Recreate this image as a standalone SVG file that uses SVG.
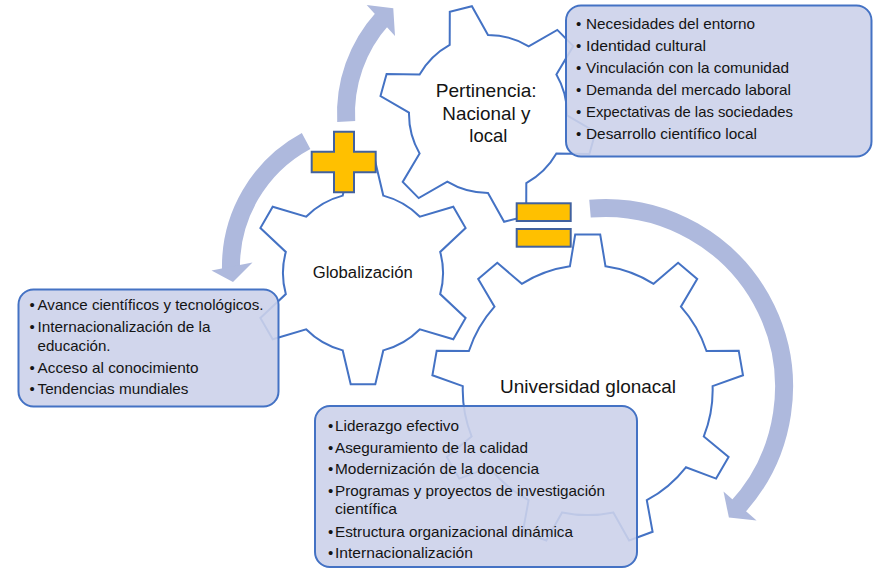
<svg xmlns="http://www.w3.org/2000/svg" width="880" height="577" viewBox="0 0 880 577">
<style>
.gear{fill:#fff;stroke:#4472C4;stroke-width:2;stroke-linejoin:miter}
.box{fill:#CCD2EA;fill-opacity:0.9;stroke:#4472C4;stroke-width:2}
.t{font-family:"Liberation Sans",Arial,sans-serif;font-size:15px;fill:#141414}
.lbl{font-family:"Liberation Sans",Arial,sans-serif;fill:#141414;text-anchor:middle}
.band{fill:none;stroke:#AEB9DD;stroke-width:18}
.head{fill:#AEB9DD}
.op{fill:#FFC000;stroke:#41619F;stroke-width:2}
</style>
<rect x="0" y="0" width="880" height="577" fill="#fff"/>

<g id="node-universidad">
<path class="gear" d="M569.9,266.3 L575.2,234.5 L600.2,234.5 L605.5,266.3 A125 125 0 0 1 653.6,283.8 L678.1,262.8 L697.2,278.9 L680.9,306.7 A125 125 0 0 1 706.5,351 L738.7,350.7 L743,375.3 L712.6,386.1 A125 125 0 0 1 703.8,436.4 L728.6,456.9 L716.1,478.6 L685.9,467.3 A125 125 0 0 1 646.8,500.2 L652.6,531.8 L629.1,540.4 L613.3,512.4 A125 125 0 0 1 562.1,512.4 L546.3,540.4 L522.8,531.8 L528.6,500.2 A125 125 0 0 1 489.5,467.3 L459.3,478.6 L446.8,456.9 L471.6,436.4 A125 125 0 0 1 462.8,386.1 L432.4,375.3 L436.7,350.7 L468.9,351 A125 125 0 0 1 494.5,306.7 L478.2,278.9 L497.3,262.8 L521.8,283.8 A125 125 0 0 1 569.9,266.3 Z"/>
<text class="lbl" x="588" y="393.3" font-size="19" textLength="176" lengthAdjust="spacingAndGlyphs">Universidad glonacal</text>
<rect class="box" x="315" y="406" width="322" height="161" rx="15" ry="15"/>
<g class="t">
<text x="328" y="430.7">•</text><text x="335" y="430.7" textLength="124" lengthAdjust="spacingAndGlyphs">Liderazgo efectivo</text>
<text x="328" y="452.7">•</text><text x="335" y="452.7" textLength="193" lengthAdjust="spacingAndGlyphs">Aseguramiento de la calidad</text>
<text x="328" y="474.3">•</text><text x="335" y="474.3" textLength="204" lengthAdjust="spacingAndGlyphs">Modernización de la docencia</text>
<text x="328" y="496">•</text><text x="335" y="496" textLength="270" lengthAdjust="spacingAndGlyphs">Programas y proyectos de investigación</text>
<text x="335" y="513.5" textLength="62" lengthAdjust="spacingAndGlyphs">científica</text>
<text x="328" y="536.5">•</text><text x="335" y="536.5" textLength="238" lengthAdjust="spacingAndGlyphs">Estructura organizacional dinámica</text>
<text x="328" y="558.3">•</text><text x="335" y="558.3" textLength="138" lengthAdjust="spacingAndGlyphs">Internacionalización</text>
</g>
</g>

<g id="node-globalizacion">
<path class="gear" d="M342.7,195.6 L350.7,161.7 L375.3,161.7 L383.3,195.6 A80 80 0 0 1 419.9,216.7 L453.3,206.7 L465.6,228 L440.2,251.9 A80 80 0 0 1 440.2,294.1 L465.6,318 L453.3,339.3 L419.9,329.3 A80 80 0 0 1 383.3,350.4 L375.3,384.3 L350.7,384.3 L342.7,350.4 A80 80 0 0 1 306.1,329.3 L272.7,339.3 L260.4,318 L285.8,294.1 A80 80 0 0 1 285.8,251.9 L260.4,228 L272.7,206.7 L306.1,216.7 A80 80 0 0 1 342.7,195.6 Z"/>
<text class="lbl" x="362.7" y="278.3" font-size="16" textLength="100" lengthAdjust="spacingAndGlyphs">Globalización</text>
<rect class="box" x="18.5" y="289.5" width="260" height="117" rx="15" ry="15"/>
<g class="t">
<text x="29.5" y="309.5">•</text><text x="37.5" y="309.5" textLength="226" lengthAdjust="spacingAndGlyphs">Avance científicos y tecnológicos.</text>
<text x="29.5" y="331.5">•</text><text x="37.5" y="331.5" textLength="173" lengthAdjust="spacingAndGlyphs">Internacionalización de la</text>
<text x="37.5" y="350.5" textLength="73" lengthAdjust="spacingAndGlyphs">educación.</text>
<text x="29.5" y="373">•</text><text x="37.5" y="373" textLength="161" lengthAdjust="spacingAndGlyphs">Acceso al conocimiento</text>
<text x="29.5" y="394">•</text><text x="37.5" y="394" textLength="151" lengthAdjust="spacingAndGlyphs">Tendencias mundiales</text>
</g>
</g>

<g id="node-pertinencia">
<path class="gear" d="M449.7,44.9 L449.8,11.9 L471.9,6.2 L488,35 A79 79 0 0 1 528.7,46.3 L557.3,29.9 L573.3,46.1 L556.4,74.5 A79 79 0 0 1 567,115.4 L595.5,132 L589.4,154 L556.4,153.5 A79 79 0 0 1 526.3,183.1 L526.2,216.1 L504.1,221.8 L488,193 A79 79 0 0 1 447.3,181.7 L418.7,198.1 L402.7,181.9 L419.6,153.5 A79 79 0 0 1 409,112.6 L380.5,96 L386.6,74.1 L419.6,74.5 A79 79 0 0 1 449.7,44.9 Z"/>
<text class="lbl" font-size="19">
<tspan x="488.8" y="96.7" textLength="101" lengthAdjust="spacingAndGlyphs">Pertinencia:</tspan>
<tspan x="489" y="120" textLength="88" lengthAdjust="spacingAndGlyphs">Nacional y</tspan>
<tspan x="488.3" y="141.7" textLength="38" lengthAdjust="spacingAndGlyphs">local</tspan>
</text>
<rect class="box" x="566" y="5.5" width="305.5" height="151" rx="15" ry="15"/>
<g class="t">
<text x="576" y="29">•</text><text x="586" y="29" textLength="169" lengthAdjust="spacingAndGlyphs">Necesidades del entorno</text>
<text x="576" y="51">•</text><text x="586" y="51" textLength="120" lengthAdjust="spacingAndGlyphs">Identidad cultural</text>
<text x="576" y="73">•</text><text x="586" y="73" textLength="203" lengthAdjust="spacingAndGlyphs">Vinculación con la comunidad</text>
<text x="576" y="95">•</text><text x="586" y="95" textLength="205" lengthAdjust="spacingAndGlyphs">Demanda del mercado laboral</text>
<text x="576" y="117">•</text><text x="586" y="117" textLength="207" lengthAdjust="spacingAndGlyphs">Expectativas de las sociedades</text>
<text x="576" y="139">•</text><text x="586" y="139" textLength="171" lengthAdjust="spacingAndGlyphs">Desarrollo científico local</text>
</g>
</g>

<g id="connectors">
<path class="band" d="M346.2,121.4 A142 142 0 0 1 382.6,18.5"/>
<polygon class="head" points="366.7,5 395,36 393.3,8.3"/>
<path class="band" d="M306.1,141 A142.8 142.8 0 0 0 231,270.4"/>
<polygon class="head" points="211.5,270.5 252.5,262.5 233,282"/>
<path class="band" d="M590,208.6 A179 179 0 0 1 735.9,509.1"/>
<polygon class="head" points="723.5,491.5 756.6,520.6 728.9,517.6"/>
</g>

<g id="op-plus">
<polygon class="op" points="334,131.7 354,131.7 354,151.7 375.7,151.7 375.7,172.3 354,172.3 354,192.3 334,192.3 334,172.3 311.7,172.3 311.7,151.7 334,151.7"/>
</g>
<g id="op-equals">
<rect class="op" x="516.7" y="203.3" width="54" height="17.7"/>
<rect class="op" x="516.7" y="229" width="54" height="17.7"/>
</g>
</svg>
